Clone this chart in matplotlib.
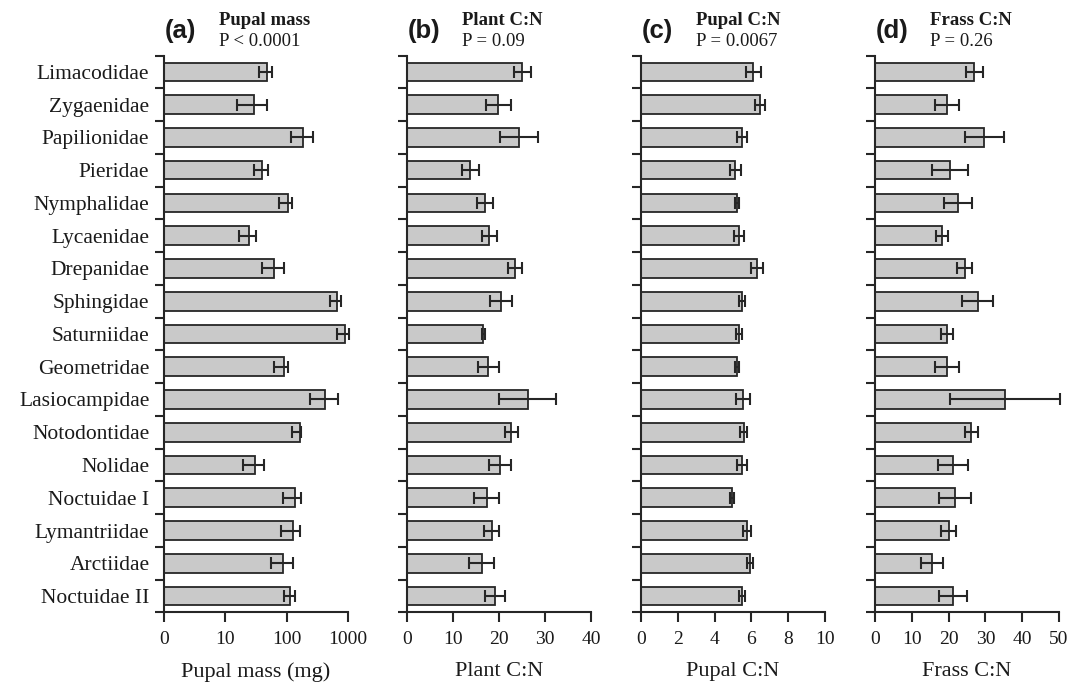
import numpy as np
import matplotlib
matplotlib.use("Agg")
import matplotlib.pyplot as plt

plt.rcParams['font.family'] = ['Liberation Serif', 'DejaVu Serif']

families = ["Limacodidae", "Zygaenidae", "Papilionidae", "Pieridae",
            "Nymphalidae", "Lycaenidae", "Drepanidae", "Sphingidae",
            "Saturniidae", "Geometridae", "Lasiocampidae", "Notodontidae",
            "Nolidae", "Noctuidae I", "Lymantriidae", "Arctiidae",
            "Noctuidae II"]

# pupal mass (mg), with lower / upper ends of the error bars
mass = [48, 29, 185, 40, 107, 24.5, 61, 670, 905, 89, 428, 164, 31, 136,
        127, 88, 112]
mass_lo = [35, 15.6, 118, 29, 76, 16.4, 39, 510, 655, 63, 244, 124, 19.6,
           86, 81, 56, 89]
mass_hi = [58, 48, 270, 49, 120, 31.4, 89, 760, 1026, 107, 680, 174, 43,
           174, 166, 129, 139]

plant_cn = [25.1, 19.8, 24.4, 13.8, 17.0, 17.9, 23.4, 20.5, 16.6, 17.7,
            26.2, 22.7, 20.2, 17.3, 18.4, 16.2, 19.1]
plant_se = [1.8, 2.7, 4.1, 1.8, 1.8, 1.7, 1.5, 2.4, 0.4, 2.3, 6.2, 1.5,
            2.4, 2.7, 1.7, 2.7, 2.2]

pupal_cn = [6.10, 6.46, 5.49, 5.13, 5.23, 5.32, 6.30, 5.49, 5.32, 5.23,
            5.56, 5.58, 5.49, 4.95, 5.76, 5.92, 5.49]
pupal_se = [0.42, 0.27, 0.25, 0.28, 0.12, 0.27, 0.32, 0.15, 0.17, 0.12,
            0.37, 0.18, 0.28, 0.13, 0.22, 0.15, 0.15]

frass_cn = [27.0, 19.5, 29.7, 20.4, 22.6, 18.3, 24.4, 27.9, 19.5, 19.5,
            35.4, 26.2, 21.3, 21.8, 20.0, 15.5, 21.3]
frass_se = [2.3, 3.2, 5.3, 4.9, 3.8, 1.6, 2.0, 4.3, 1.6, 3.2, 15.0, 1.8,
            4.1, 4.3, 2.0, 3.0, 3.8]

panel_letters = ["(a)", "(b)", "(c)", "(d)"]
panel_titles = ["Pupal mass", "Plant C:N", "Pupal C:N", "Frass C:N"]
panel_pvals = ["P < 0.0001", "P = 0.09", "P = 0.0067", "P = 0.26"]
x_labels = ["Pupal mass (mg)", "Plant C:N", "Pupal C:N", "Frass C:N"]

INK = '#262626'
TXT = '#1a1a1a'
BAR = '#c9c9c9'


def main():
    W, H = 1071, 690
    fig = plt.figure(figsize=(W / 100, H / 100), dpi=100)
    lefts = [164, 407, 641, 875]
    ax_w = 184
    top_px, bot_px = 55.5, 612.4
    y = np.arange(len(families))

    for i in range(4):
        ax = fig.add_axes([lefts[i] / W, 1 - bot_px / H, ax_w / W,
                           (bot_px - top_px) / H])
        if i == 0:
            m = np.array(mass)
            err = [m - np.array(mass_lo), np.array(mass_hi) - m]
            ax.set_xscale('log')
            ax.barh(y, m - 1, left=1, height=0.57, color=BAR,
                    edgecolor=INK, linewidth=1.3, zorder=2)
            ax.errorbar(m, y, xerr=err, fmt='none', ecolor=INK,
                        elinewidth=1.5, capsize=4.5, capthick=1.5,
                        zorder=3, clip_on=False)
            ax.set_xlim(1, 1000)
            ax.set_xticks([1, 10, 100, 1000])
            ax.set_xticklabels(["0", "10", "100", "1000"])
            ax.minorticks_off()
        else:
            vals, se, xmax, step = [(plant_cn, plant_se, 40, 10),
                                    (pupal_cn, pupal_se, 10, 2),
                                    (frass_cn, frass_se, 50, 10)][i - 1]
            ax.barh(y, vals, height=0.57, color=BAR, edgecolor=INK,
                    linewidth=1.3, zorder=2)
            ax.errorbar(vals, y, xerr=se, fmt='none', ecolor=INK,
                        elinewidth=1.5, capsize=4.5, capthick=1.5,
                        zorder=3, clip_on=False)
            ax.set_xlim(0, xmax)
            ax.set_xticks(np.arange(0, xmax + step / 2, step))

        ax.set_ylim(len(families) - 0.5, -0.5)
        ax.set_yticks(np.arange(-0.5, len(families), 1.0))
        ax.set_yticklabels([])
        ax.set_yticks(y, minor=True)
        if i == 0:
            ax.set_yticklabels(families, minor=True, fontsize=15.5)
        else:
            ax.set_yticklabels([], minor=True)
        ax.tick_params(axis='y', which='major', direction='out', length=6.5,
                       width=1.5, color=INK)
        ax.tick_params(axis='y', which='minor', length=0, pad=10.5,
                       labelcolor=TXT)
        ax.tick_params(axis='x', which='major', direction='out', length=7.2,
                       width=1.5, color=INK, labelsize=14, pad=6.5,
                       labelcolor=TXT)

        for side in ['top', 'right']:
            ax.spines[side].set_visible(False)
        for side in ['left', 'bottom']:
            ax.spines[side].set_linewidth(1.5)
            ax.spines[side].set_color(INK)

        ax.set_xlabel(x_labels[i], fontsize=16, labelpad=10, color=TXT)

        ax.text(0.005, 1.031, panel_letters[i], transform=ax.transAxes,
                family='Liberation Sans', fontweight='bold', fontsize=18.5,
                ha='left', va='baseline', color=TXT)
        ax.text(0.30, 1.055, panel_titles[i], transform=ax.transAxes,
                fontweight='bold', fontsize=13.5, ha='left', va='baseline',
                color=TXT)
        ax.text(0.30, 1.017, panel_pvals[i], transform=ax.transAxes,
                fontsize=13.5, ha='left', va='baseline', color=TXT)

    fig.savefig("out.png", dpi=100)


if __name__ == "__main__":
    main()
